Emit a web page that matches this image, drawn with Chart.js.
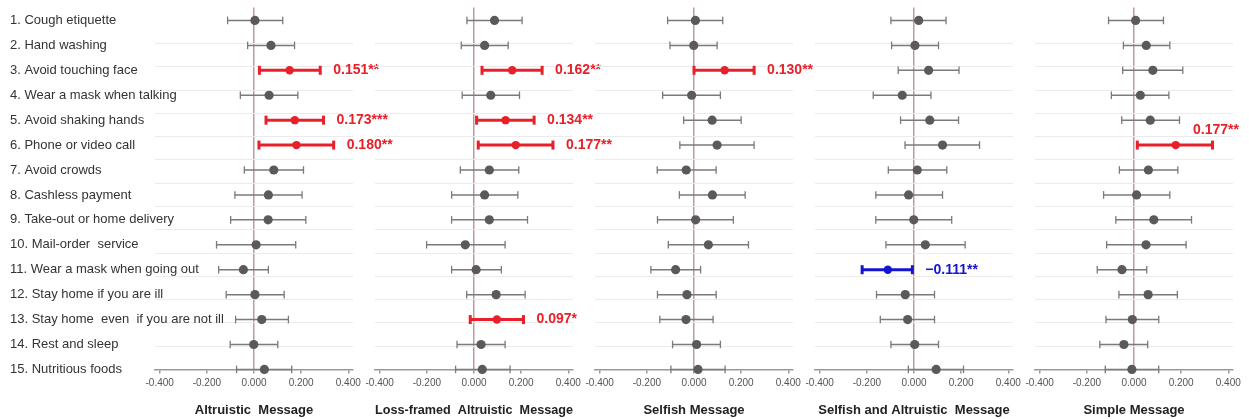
<!DOCTYPE html>
<html lang="en">
<head>
<meta charset="UTF-8" />
<title>Message effects on preventive behaviours</title>
<script src="https://cdn.jsdelivr.net/npm/chart.js@4.4.1/dist/chart.umd.min.js"></script>
<style>
  body { margin: 0; background: #fff; }
  #wrap { position: relative; width: 1249px; height: 419px; overflow: hidden; }
  #wrap canvas { position: absolute; top: 0; }
</style>
</head>
<body>
<div id="wrap"></div>
<script>
// rows (top to bottom)
const behaviours = [
  '1. Cough etiquette', '2. Hand washing', '3. Avoid touching face',
  '4. Wear a mask when talking', '5. Avoid shaking hands', '6. Phone or video call',
  '7. Avoid crowds', '8. Cashless payment', '9. Take-out or home delivery',
  '10. Mail-order  service', '11. Wear a mask when going out', '12. Stay home if you are ill',
  '13. Stay home  even  if you are not ill', '14. Rest and sleep', '15. Nutritious foods'
];
const panelTitles = [
  'Altruistic  Message', 'Loss-framed  Altruistic  Message', 'Selfish Message',
  'Selfish and Altruistic  Message', 'Simple Message'
];
const xTicks = [-0.4, -0.2, 0, 0.2, 0.4];

// point estimates per panel
const altruisticEst = [0.004, 0.072, 0.151, 0.064, 0.173, 0.180, 0.084, 0.061, 0.060, 0.009, -0.045, 0.004, 0.033, -0.001, 0.044];
const lossFramedEst = [0.087, 0.045, 0.162, 0.071, 0.134, 0.177, 0.065, 0.045, 0.065, -0.037, 0.009, 0.094, 0.097, 0.030, 0.035];
const selfishEst    = [0.006, -0.001, 0.130, -0.010, 0.077, 0.098, -0.033, 0.078, 0.007, 0.061, -0.078, -0.030, -0.034, 0.011, 0.017];
const bothEst       = [0.020, 0.004, 0.062, -0.050, 0.067, 0.121, 0.014, -0.023, -0.001, 0.048, -0.111, -0.037, -0.027, 0.003, 0.094];
const simpleEst     = [0.007, 0.052, 0.080, 0.027, 0.069, 0.177, 0.061, 0.011, 0.084, 0.051, -0.051, 0.060, -0.007, -0.043, -0.009];

// lower confidence limits
const altruisticLo = [-0.112, -0.027, 0.023, -0.058, 0.051, 0.021, -0.041, -0.081, -0.099, -0.159, -0.150, -0.118, -0.078, -0.101, -0.074];
const lossFramedLo = [-0.030, -0.054, 0.034, -0.050, 0.011, 0.018, -0.058, -0.095, -0.095, -0.201, -0.095, -0.031, -0.016, -0.072, -0.078];
const selfishLo    = [-0.112, -0.102, 0.000, -0.133, -0.044, -0.060, -0.156, -0.062, -0.155, -0.109, -0.183, -0.155, -0.145, -0.091, -0.098];
const bothLo       = [-0.098, -0.095, -0.067, -0.173, -0.057, -0.038, -0.109, -0.162, -0.162, -0.119, -0.220, -0.159, -0.143, -0.098, -0.024];
const simpleLo     = [-0.108, -0.045, -0.048, -0.096, -0.052, 0.014, -0.062, -0.129, -0.077, -0.116, -0.156, -0.064, -0.119, -0.145, -0.122];

// upper confidence limits
const altruisticHi = [0.122, 0.172, 0.281, 0.186, 0.295, 0.338, 0.210, 0.204, 0.220, 0.177, 0.061, 0.128, 0.146, 0.101, 0.160];
const lossFramedHi = [0.204, 0.145, 0.289, 0.193, 0.255, 0.335, 0.190, 0.186, 0.227, 0.132, 0.116, 0.217, 0.210, 0.132, 0.153];
const selfishHi    = [0.122, 0.098, 0.255, 0.112, 0.200, 0.255, 0.094, 0.217, 0.167, 0.231, 0.028, 0.094, 0.081, 0.112, 0.132];
const bothHi       = [0.136, 0.104, 0.191, 0.072, 0.189, 0.278, 0.139, 0.121, 0.160, 0.217, -0.007, 0.087, 0.087, 0.104, 0.210];
const simpleHi     = [0.125, 0.152, 0.207, 0.148, 0.193, 0.333, 0.186, 0.152, 0.244, 0.221, 0.054, 0.184, 0.105, 0.058, 0.105];

// significant coefficients ('' = not significant)
const altruisticSig = ['', '', '0.151**', '', '0.173***', '0.180**', '', '', '', '', '', '', '', '', ''];
const lossFramedSig = ['', '', '0.162**', '', '0.134**', '0.177**', '', '', '', '', '', '', '0.097*', '', ''];
const selfishSig    = ['', '', '0.130**', '', '', '', '', '', '', '', '', '', '', '', ''];
const bothSig       = ['', '', '', '', '', '', '', '', '', '', '\u22120.111**', '', '', '', ''];
const simpleSig     = ['', '', '', '', '', '0.177**', '', '', '', '', '', '', '', '', ''];

const panels = [
  { est: altruisticEst, lo: altruisticLo, hi: altruisticHi, sig: altruisticSig },
  { est: lossFramedEst, lo: lossFramedLo, hi: lossFramedHi, sig: lossFramedSig },
  { est: selfishEst,    lo: selfishLo,    hi: selfishHi,    sig: selfishSig },
  { est: bothEst,       lo: bothLo,       hi: bothHi,       sig: bothSig },
  { est: simpleEst,     lo: simpleLo,     hi: simpleHi,     sig: simpleSig }
];

const GRAY_DOT = '#5a5a5a';
const GRAY_LINE = '#7a7a7a';
const RED = '#e8202a';
const BLUE = '#1414d2';
const FONT = "'Liberation Sans', Arial, sans-serif";

function sigColor(txt) {
  return txt.startsWith('\u2212') ? BLUE : RED;
}

// row labels on the first panel, drawn over the plot like in the original
const rowLabels = {
  id: 'rowLabels',
  afterDraw(chart, args, opts) {
    if (!opts.show) return;
    const ctx = chart.ctx, ys = chart.scales.y;
    ctx.save();
    ctx.font = '13px ' + FONT;
    ctx.fillStyle = '#333';
    ctx.textAlign = 'left';
    ctx.textBaseline = 'middle';
    behaviours.forEach((b, i) => ctx.fillText(b, 10, ys.getPixelForValue(i + 1)));
    ctx.restore();
  }
};

// coefficient text next to significant intervals
const sigLabels = {
  id: 'sigLabels',
  afterDatasetsDraw(chart, args, opts) {
    const ctx = chart.ctx, xs = chart.scales.x, ys = chart.scales.y;
    ctx.save();
    ctx.font = 'bold 14px ' + FONT;
    ctx.textBaseline = 'middle';
    opts.sig.forEach((txt, i) => {
      if (!txt) return;
      const xEnd = xs.getPixelForValue(opts.hi[i]);
      const y = ys.getPixelForValue(i + 1);
      const w = ctx.measureText(txt).width;
      ctx.fillStyle = sigColor(txt);
      if (xEnd + 13 + w > chart.width - 4) {
        // no room on the right: put it above the interval
        ctx.textAlign = 'right';
        ctx.fillText(txt, chart.width - 10, y - 15);
      } else {
        ctx.textAlign = 'left';
        ctx.fillText(txt, xEnd + 13, y);
      }
    });
    ctx.restore();
  }
};

const wrap = document.getElementById('wrap');

panels.forEach((p, k) => {
  // canvas placement
  let left, width, padLeft, padRight;
  if (k === 0) { left = 0; width = 420; padLeft = 155; padRight = 67; }
  else if (k === 4) { left = 1015; width = 234; padLeft = 20; padRight = 16; }
  else { left = 135 + 220 * k; width = 290; padLeft = 20; padRight = 72; }

  const cv = document.createElement('canvas');
  cv.style.left = left + 'px';
  cv.style.width = width + 'px';
  cv.style.height = '419px';
  cv.width = width;
  cv.height = 419;
  wrap.appendChild(cv);

  const datasets = [{
    label: 'estimate',
    data: p.est.map((v, i) => ({ x: v, y: i + 1 })),
    pointRadius: p.sig.map(s => s ? 4.2 : 4.6),
    pointBackgroundColor: p.sig.map(s => s ? sigColor(s) : GRAY_DOT),
    pointBorderWidth: 0,
    showLine: false,
    clip: false
  }];
  p.est.forEach((v, i) => {
    const s = p.sig[i];
    const col = s ? sigColor(s) : GRAY_LINE;
    datasets.push({
      label: 'ci' + (i + 1),
      data: [{ x: p.lo[i], y: i + 1 }, { x: p.hi[i], y: i + 1 }],
      showLine: true,
      clip: false,
      borderColor: col,
      borderWidth: s ? 3 : 1.5,
      pointStyle: 'line',
      rotation: 90,
      pointRadius: s ? 4.5 : 3.8,
      pointBorderColor: col,
      pointBorderWidth: s ? 3 : 1.3
    });
  });

  new Chart(cv, {
    type: 'scatter',
    data: { datasets },
    plugins: [rowLabels, sigLabels],
    options: {
      responsive: false,
      animation: false,
      events: [],
      layout: { padding: { left: padLeft, right: padRight, top: 7, bottom: 0 } },
      plugins: {
        legend: { display: false },
        tooltip: { enabled: false },
        rowLabels: { show: k === 0 },
        sigLabels: { sig: p.sig, hi: p.hi }
      },
      scales: {
        x: {
          type: 'linear',
          min: -0.42,
          max: 0.42,
          afterBuildTicks: axis => { axis.ticks = xTicks.map(v => ({ value: v })); },
          afterFit: scale => { scale.paddingLeft = 0; scale.paddingRight = 0; },
          ticks: {
            font: { family: FONT, size: 10 },
            color: '#555',
            padding: 4,
            maxRotation: 0,
            callback: v => v.toFixed(3)
          },
          grid: {
            color: c => (c.tick && c.tick.value === 0) ? '#c09a9a' : 'rgba(0,0,0,0)',
            lineWidth: 1.5,
            tickColor: '#999',
            tickLength: 4,
            drawOnChartArea: true
          },
          border: { display: true, color: '#9a9a9a', width: 1.5 },
          title: {
            display: true,
            text: panelTitles[k],
            font: { family: FONT, size: 13, weight: 'bold' },
            color: '#222',
            padding: { top: 9, bottom: 1 }
          }
        },
        y: {
          type: 'linear',
          reverse: true,
          min: 0.48,
          max: 15,
          display: false
        },
        yg: {
          type: 'linear',
          position: 'left',
          reverse: true,
          min: -0.55,
          max: 15,
          afterBuildTicks: axis => {
            axis.ticks = behaviours.slice(1).map((b, i) => ({ value: i + 1 }));
          },
          ticks: { display: false },
          grid: { color: '#ebebeb', lineWidth: 1, drawTicks: false },
          border: { display: false },
          afterFit: scale => { scale.width = 0; }
        }
      }
    }
  });
});
</script>
</body>
</html>
